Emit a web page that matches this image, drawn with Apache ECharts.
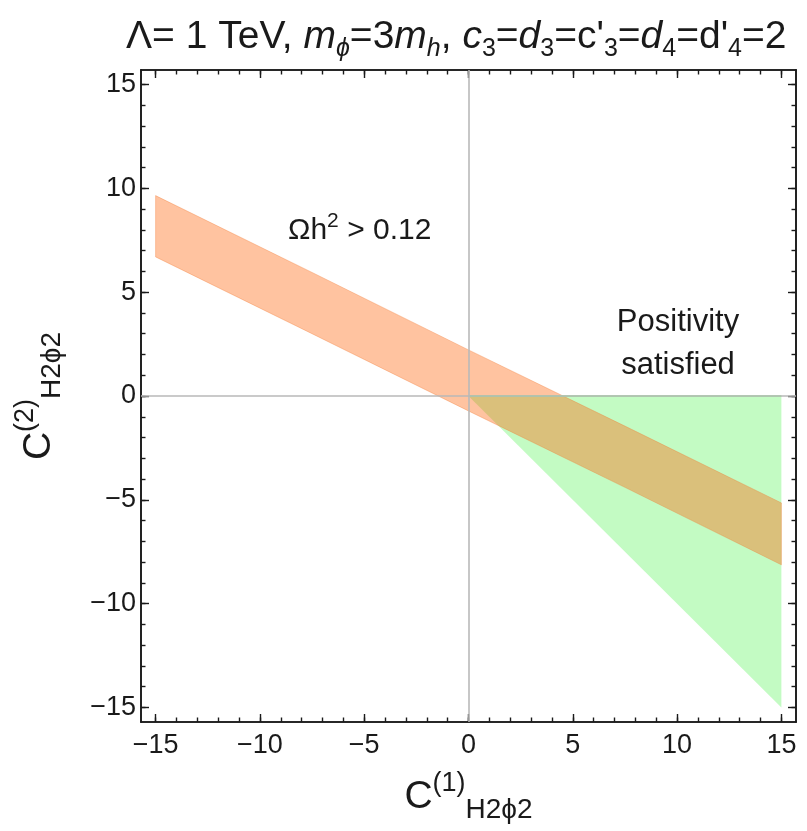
<!DOCTYPE html>
<html>
<head>
<meta charset="utf-8">
<script src="https://cdn.jsdelivr.net/npm/echarts@6/dist/echarts.min.js"></script>
<style>
html,body{margin:0;padding:0;background:#fff;}
#chart{width:807px;height:831px;}
</style>
</head>
<body>
<div id="chart"></div>
<script>
// ---- data ----
const bandX     = [-15, -7.5, 0, 7.5, 15];
const bandUpper = [9.65, 5.95, 2.22, -1.45, -5.15];
const bandLower = [6.7, 3.0, -0.72, -4.4, -8.13];

const posX = [0, 15, 15];
const posY = [0, 0, -15];

const majorTicks = [-15, -10, -5, 0, 5, 10, 15];
const minorTicks = [-15,-14,-13,-12,-11,-10,-9,-8,-7,-6,-5,-4,-3,-2,-1,0,1,2,3,4,5,6,7,8,9,10,11,12,13,14,15];
const axisLines = [0];

const FONT = 'Liberation Sans, Arial, sans-serif';
const INK = '#1a1a1a';

function fmt(v){ return v < 0 ? '\u2212' + Math.abs(v) : String(v); }

function mkAxis(kind, position, ticks, len, showLabel, extra){
  const a = {
    type: 'value', min: -15.7, max: 15.7, position: position,
    axisLine: {show: true, onZero: false, lineStyle: {color: INK, width: 1.6}},
    splitLine: {show: false},
    axisTick: {show: true, inside: true, length: len, customValues: ticks, lineStyle: {color: INK, width: 1.4}},
    axisLabel: showLabel ? {show: true, customValues: ticks, formatter: fmt, fontSize: 27, fontFamily: FONT, color: INK, margin: kind === 'x' ? 10 : 5} : {show: false}
  };
  return Object.assign(a, extra || {});
}

const nameRich = {
  c: {fontSize: 39, fontFamily: FONT, color: INK, lineHeight: 54, verticalAlign: 'middle'},
  sup: {fontSize: 27, fontFamily: FONT, color: INK, lineHeight: 54, verticalAlign: 'top'},
  sub: {fontSize: 28, fontFamily: FONT, color: INK, lineHeight: 54, verticalAlign: 'bottom'}
};

const xAxes = [
  mkAxis('x', 'bottom', majorTicks, 8, true, {
    name: '{c|C}{sup|(1)}{sub|H2\u03D52}', nameLocation: 'middle', nameGap: 48,
    nameTextStyle: {fontFamily: FONT, color: INK, rich: nameRich}
  }),
  mkAxis('x', 'bottom', minorTicks, 4.5, false),
  mkAxis('x', 'top', majorTicks, 8, false),
  mkAxis('x', 'top', minorTicks, 4.5, false)
];
const yAxes = [
  mkAxis('y', 'left', majorTicks, 8, true, {
    name: '{c|C}{sup|(2)}{sub|H2\u03D52}', nameLocation: 'middle', nameGap: 75, nameRotate: 90,
    nameTextStyle: {fontFamily: FONT, color: INK, rich: nameRich}
  }),
  mkAxis('y', 'left', minorTicks, 4.5, false),
  mkAxis('y', 'right', majorTicks, 8, false),
  mkAxis('y', 'right', minorTicks, 4.5, false)
];

const chart = echarts.init(document.getElementById('chart'), null, {renderer: 'canvas'});

const tn = {fontSize: 39, fontFamily: FONT, fontWeight: 'normal', color: INK, lineHeight: 50, verticalAlign: 'middle'};
const ti = Object.assign({}, tn, {fontStyle: 'italic'});
const tsub = {fontSize: 25, fontFamily: FONT, fontWeight: 'normal', color: INK, lineHeight: 50, verticalAlign: 'bottom'};
const tisub = Object.assign({}, tsub, {fontStyle: 'italic'});

chart.setOption({
  animation: false,
  backgroundColor: '#ffffff',
  title: {
    left: 126, top: 12, padding: 0,
    text: '{n|\u039B= 1 TeV, }{i|m}{si|\u03D5}{n|=3}{i|m}{si|h}{n|, }{i|c}{s|3}{n|=}{i|d}{s|3}{n|=c\'}{s|3}{n|=}{i|d}{s|4}{n|=d\'}{s|4}{n|=2}',
    textStyle: {fontWeight: 'normal', rich: {n: tn, i: ti, s: tsub, si: tisub}}
  },
  grid: {left: 141, top: 70, width: 655, height: 652, containLabel: false, outerBoundsMode: 'none'},
  xAxis: xAxes,
  yAxis: yAxes,
  series: [
    {
      type: 'line', data: [], z: 1, silent: true,
      markLine: {
        silent: true, symbol: 'none', label: {show: false},
        lineStyle: {color: '#b9b9b9', width: 1.6, type: 'solid'},
        data: [{xAxis: axisLines[0]}, {yAxis: axisLines[0]}]
      }
    },
    {
      type: 'custom', z: 2, silent: true, clip: true,
      data: [[posX[0], posY[0]]],
      renderItem: function(params, api){
        const pts = posX.map((x, i) => api.coord([x, posY[i]]));
        return {type: 'polygon', shape: {points: pts}, style: {fill: '#c3fbc3', stroke: null}};
      }
    },
    {
      type: 'custom', z: 3, silent: true, clip: true,
      data: [[bandX[0], bandUpper[0]]],
      renderItem: function(params, api){
        const top = bandX.map((x, i) => api.coord([x, bandUpper[i]]));
        const bot = bandX.map((x, i) => api.coord([x, bandLower[i]])).reverse();
        return {type: 'polygon', shape: {points: top.concat(bot)},
          style: {fill: 'rgba(255,100,10,0.39)', stroke: 'rgba(240,120,50,0.35)', lineWidth: 1}};
      }
    },
    {
      type: 'line', z: 4, silent: true, symbol: 'none',
      data: [[posX[0], posY[0]], [posX[1], posY[1]]],
      lineStyle: {color: '#86e886', width: 1.6}
    }
  ],
  graphic: [
    {
      type: 'text', x: 288, y: 231, silent: true,
      style: {
        text: '{n|\u03A9h}{sup|2}{n| > 0.12}',
        align: 'left', verticalAlign: 'middle',
        rich: {
          n: {fontSize: 30, fontFamily: FONT, fill: INK, lineHeight: 40, verticalAlign: 'middle'},
          sup: {fontSize: 21, fontFamily: FONT, fill: INK, lineHeight: 40, verticalAlign: 'top'}
        }
      }
    },
    {
      type: 'text', x: 678, y: 344, silent: true,
      style: {
        text: 'Positivity\nsatisfied',
        align: 'center', verticalAlign: 'middle',
        font: '31px ' + FONT, fill: INK, lineHeight: 43
      }
    }
  ]
});
</script>
</body>
</html>
